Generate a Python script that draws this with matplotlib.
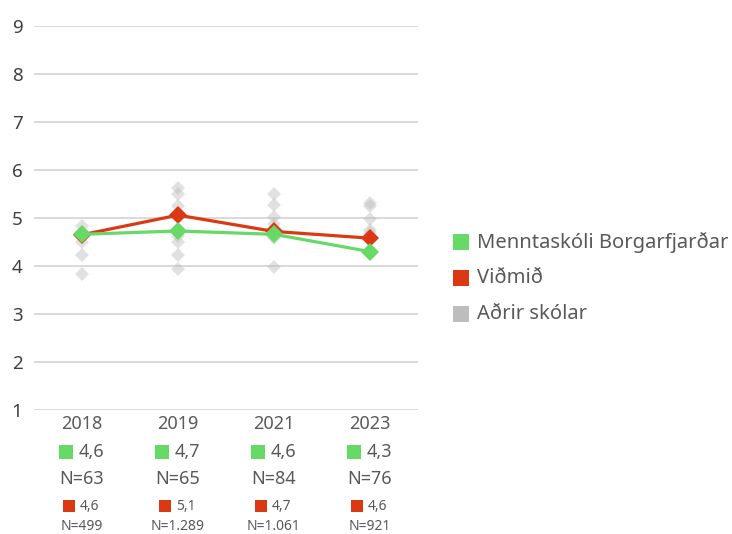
import matplotlib
matplotlib.use("Agg")
import matplotlib.pyplot as plt
from matplotlib.transforms import offset_copy
from matplotlib.lines import Line2D

plt.rcParams['font.family'] = ['Noto Sans', 'DejaVu Sans']

years = ['2018', '2019', '2021', '2023']
school_values = [4.66, 4.73, 4.66, 4.30]
benchmark_values = [4.65, 5.06, 4.72, 4.58]
school_labels = ['4,6', '4,7', '4,6', '4,3']
school_n = ['N=63', 'N=65', 'N=84', 'N=76']
benchmark_labels = ['4,6', '5,1', '4,7', '4,6']
benchmark_n = ['N=499', 'N=1.289', 'N=1.061', 'N=921']
other_schools = [
    [4.83, 4.66, 4.49, 4.22, 3.83],
    [5.62, 5.49, 5.25, 4.73, 4.63, 4.49, 4.22, 3.93],
    [5.49, 5.27, 5.02, 4.87, 4.66, 4.59, 3.98],
    [5.32, 5.24, 4.97, 4.76, 4.69],
]
legend_labels = ['Menntaskóli Borgarfjarðar', 'Viðmið', 'Aðrir skólar']

GREEN = '#66D966'
RED = '#DC3813'
GRAY = '#BDBDBD'
TXT = '#595959'
YTXT = '#404040'

W, H = 732, 534
fig = plt.figure(figsize=(W / 100, H / 100), dpi=100)
ax = fig.add_axes([34 / W, (H - 410) / H, (418 - 34) / W, 384 / H])

xs = list(range(len(years)))
for x, pts in zip(xs, other_schools):
    ax.plot([x] * len(pts), pts, linestyle='none', marker='D', markersize=7,
            color=GRAY, alpha=0.45, markeredgewidth=0, zorder=2)

ax.plot(xs, benchmark_values, color=RED, lw=2.3, marker='D', markersize=9,
        markeredgewidth=0, zorder=3)
ax.plot(xs, school_values, color=GREEN, lw=2.3, marker='D', markersize=9,
        markeredgewidth=0, zorder=4)

ax.set_xlim(-0.5, len(years) - 0.5)
ax.set_ylim(1, 9)
ax.set_yticks(range(1, 10))
ax.yaxis.grid(True, color='#D9D9D9', lw=1.4)
ax.set_axisbelow(True)
for s in ax.spines.values():
    s.set_visible(False)
ax.tick_params(axis='y', length=0, labelsize=13.5, labelcolor=YTXT, pad=16)
ax.tick_params(axis='x', length=0)
ax.set_xticks([])
for lab in ax.get_yticklabels():
    lab.set_horizontalalignment('left')

xt = ax.get_xaxis_transform()

def tr(dx, dy):
    return offset_copy(xt, fig=fig, x=dx, y=dy, units='dots')

for x, yr, sl, sn, bl, bn in zip(xs, years, school_labels, school_n,
                                 benchmark_labels, benchmark_n):
    ax.text(x, 0, yr, transform=tr(0, -14), ha='center', va='center',
            fontsize=13, color=TXT)
    ax.plot([x], [0], transform=tr(-16, -42), marker='s', markersize=10.5,
            color=GREEN, clip_on=False, markeredgewidth=0)
    ax.text(x, 0, sl, transform=tr(-3, -42), ha='left', va='center',
            fontsize=13, color=TXT)
    ax.text(x, 0, sn, transform=tr(0, -69), ha='center', va='center',
            fontsize=13, color=TXT)
    ax.plot([x], [0], transform=tr(-13, -96), marker='s', markersize=8,
            color=RED, clip_on=False, markeredgewidth=0)
    ax.text(x, 0, bl, transform=tr(-2, -96), ha='left', va='center',
            fontsize=10, color=TXT)
    ax.text(x, 0, bn, transform=tr(0, -117), ha='center', va='center',
            fontsize=10, color=TXT)

leg_y = [242, 278, 314]
for lab, col, yy in zip(legend_labels, [GREEN, RED, GRAY], leg_y):
    fig.add_artist(Line2D([461 / W], [(H - yy) / H], transform=fig.transFigure,
                          marker='s', markersize=12, color=col,
                          markeredgewidth=0, linestyle='none'))
    fig.text(477 / W, (H - yy) / H, lab, ha='left', va='center',
             fontsize=14.5, color=TXT)

fig.savefig('out.png', dpi=100)
